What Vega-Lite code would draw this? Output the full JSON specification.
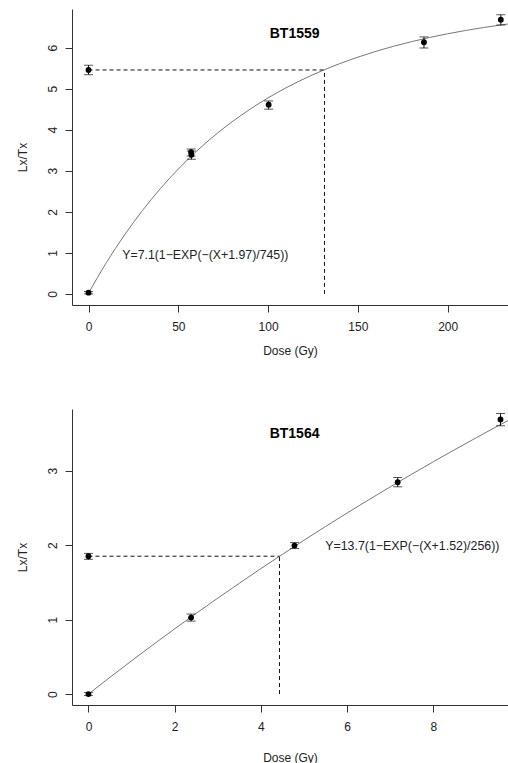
{
  "$schema": "https://vega.github.io/schema/vega-lite/v6.json",
  "padding": {"left": 15, "top": 9, "right": 0, "bottom": 0},
  "spacing": 53,
  "config": {
    "font": "Liberation Sans",
    "view": {"stroke": null},
    "axis": {"grid": false, "domainColor": "#333", "tickColor": "#333", "tickSize": 7, "labelFontSize": 12, "titleFontSize": 12, "titleFontWeight": "normal", "labelColor": "#222", "titleColor": "#222", "labelFont": "Liberation Sans", "titleFont": "Liberation Sans"},
    "axisX": {"labelPadding": 9, "titlePadding": 13},
    "axisY": {"labelAngle": -90, "labelAlign": "center", "labelBaseline": "bottom", "labelPadding": 6, "titlePadding": 17}
  },
  "datasets": {
    "pts1": [
      {"x": 0, "y": 0.03, "lo": 0.0, "hi": 0.06},
      {"x": 0, "y": 5.455, "lo": 5.34, "hi": 5.57},
      {"x": 57.1, "y": 3.455, "lo": 3.36, "hi": 3.53},
      {"x": 57.3, "y": 3.39, "lo": 3.28, "hi": 3.48},
      {"x": 100.3, "y": 4.61, "lo": 4.5, "hi": 4.7},
      {"x": 186.8, "y": 6.13, "lo": 5.99, "hi": 6.26},
      {"x": 229.6, "y": 6.68, "lo": 6.55, "hi": 6.8}
    ],
    "curve1": [
      {"x": 0, "y": 0.019}, {"x": 10, "y": 0.765}, {"x": 20, "y": 1.433}, {"x": 30, "y": 2.03},
      {"x": 40, "y": 2.565}, {"x": 50, "y": 3.042}, {"x": 60, "y": 3.47}, {"x": 70, "y": 3.852},
      {"x": 80, "y": 4.195}, {"x": 90, "y": 4.501}, {"x": 100, "y": 4.775}, {"x": 110, "y": 5.02},
      {"x": 120, "y": 5.239}, {"x": 130, "y": 5.435}, {"x": 140, "y": 5.611}, {"x": 150, "y": 5.767},
      {"x": 160, "y": 5.908}, {"x": 170, "y": 6.034}, {"x": 180, "y": 6.146}, {"x": 190, "y": 6.247},
      {"x": 200, "y": 6.337}, {"x": 210, "y": 6.417}, {"x": 220, "y": 6.489}, {"x": 230, "y": 6.553},
      {"x": 240, "y": 6.611}
    ],
    "seg1": [
      {"x": 0, "y": 5.455, "x2": 131.4, "y2": 5.455},
      {"x": 131.4, "y": 0, "x2": 131.4, "y2": 5.455}
    ],
    "txt1": [
      {"x": 114.8, "y": 6.34, "label": "BT1559", "kind": "title"},
      {"x": 18.8, "y": 0.944, "label": "Y=7.1(1−EXP(−(X+1.97)/745))", "kind": "eq"}
    ],
    "pts2": [
      {"x": 0, "y": 0.0, "lo": -0.02, "hi": 0.02},
      {"x": 0, "y": 1.852, "lo": 1.81, "hi": 1.89},
      {"x": 2.38, "y": 1.028, "lo": 0.98, "hi": 1.075},
      {"x": 4.778, "y": 1.995, "lo": 1.955, "hi": 2.035},
      {"x": 7.171, "y": 2.846, "lo": 2.785, "hi": 2.91},
      {"x": 9.556, "y": 3.69, "lo": 3.605, "hi": 3.77}
    ],
    "curve2": [
      {"x": 0, "y": 0}, {"x": 0.5, "y": 0.226}, {"x": 1, "y": 0.447}, {"x": 1.5, "y": 0.664},
      {"x": 2, "y": 0.877}, {"x": 2.5, "y": 1.085}, {"x": 3, "y": 1.289}, {"x": 3.5, "y": 1.489},
      {"x": 4, "y": 1.686}, {"x": 4.5, "y": 1.878}, {"x": 5, "y": 2.067}, {"x": 5.5, "y": 2.252},
      {"x": 6, "y": 2.433}, {"x": 6.5, "y": 2.61}, {"x": 7, "y": 2.784}, {"x": 7.5, "y": 2.955},
      {"x": 8, "y": 3.122}, {"x": 8.5, "y": 3.285}, {"x": 9, "y": 3.446}, {"x": 9.5, "y": 3.604},
      {"x": 10, "y": 3.758}
    ],
    "seg2": [
      {"x": 0, "y": 1.852, "x2": 4.43, "y2": 1.852},
      {"x": 4.43, "y": 0, "x2": 4.43, "y2": 1.852}
    ],
    "txt2": [
      {"x": 4.78, "y": 3.5, "label": "BT1564", "kind": "title"},
      {"x": 5.49, "y": 1.995, "label": "Y=13.7(1−EXP(−(X+1.52)/256))", "kind": "eq"}
    ]
  },
  "vconcat": [
    {
      "width": 436,
      "height": 296,
      "encoding": {
        "x": {"field": "x", "type": "quantitative", "title": "Dose (Gy)", "scale": {"domain": [-9.2, 233.6], "nice": false, "zero": false}, "axis": {"values": [0, 50, 100, 150, 200]}},
        "y": {"field": "y", "type": "quantitative", "title": "Lx/Tx", "scale": {"domain": [-0.27, 6.94], "nice": false, "zero": false}, "axis": {"values": [0, 1, 2, 3, 4, 5, 6]}}
      },
      "layer": [
        {"mark": {"type": "rule", "color": "#333"}, "encoding": {"y": {"datum": 6.94}}},
        {"data": {"name": "curve1"}, "mark": {"type": "line", "color": "#777", "strokeWidth": 1, "interpolate": "monotone", "clip": true}},
        {"data": {"name": "seg1"}, "mark": {"type": "rule", "color": "#111", "strokeDash": [4, 3], "strokeWidth": 1}, "encoding": {"x2": {"field": "x2"}, "y2": {"field": "y2"}}},
        {"data": {"name": "pts1"}, "mark": {"type": "errorbar", "color": "#111", "ticks": {"size": 9, "thickness": 1}, "thickness": 1}, "encoding": {"y": {"field": "lo", "type": "quantitative", "title": "Lx/Tx"}, "y2": {"field": "hi"}}},
        {"data": {"name": "pts1"}, "mark": {"type": "circle", "color": "#000", "opacity": 1, "size": 34}},
        {"data": {"name": "txt1"}, "transform": [{"filter": "datum.kind == 'title'"}], "mark": {"type": "text", "fontSize": 14, "fontWeight": "bold", "align": "center", "baseline": "middle", "color": "#000"}, "encoding": {"text": {"field": "label"}}},
        {"data": {"name": "txt1"}, "transform": [{"filter": "datum.kind == 'eq'"}], "mark": {"type": "text", "fontSize": 12.3, "align": "left", "baseline": "middle", "color": "#222"}, "encoding": {"text": {"field": "label"}}}
      ]
    },
    {
      "width": 436,
      "height": 296,
      "encoding": {
        "x": {"field": "x", "type": "quantitative", "title": "Dose (Gy)", "scale": {"domain": [-0.382, 9.73], "nice": false, "zero": false}, "axis": {"values": [0, 2, 4, 6, 8], "titlePadding": 20}},
        "y": {"field": "y", "type": "quantitative", "title": "Lx/Tx", "scale": {"domain": [-0.147, 3.83], "nice": false, "zero": false}, "axis": {"values": [0, 1, 2, 3]}}
      },
      "layer": [
        {"mark": {"type": "rule", "color": "#333"}, "encoding": {"y": {"datum": 3.83}}},
        {"data": {"name": "curve2"}, "mark": {"type": "line", "color": "#777", "strokeWidth": 1, "interpolate": "monotone", "clip": true}},
        {"data": {"name": "seg2"}, "mark": {"type": "rule", "color": "#111", "strokeDash": [4, 3], "strokeWidth": 1}, "encoding": {"x2": {"field": "x2"}, "y2": {"field": "y2"}}},
        {"data": {"name": "pts2"}, "mark": {"type": "errorbar", "color": "#111", "ticks": {"size": 9, "thickness": 1}, "thickness": 1}, "encoding": {"y": {"field": "lo", "type": "quantitative", "title": "Lx/Tx"}, "y2": {"field": "hi"}}},
        {"data": {"name": "pts2"}, "mark": {"type": "circle", "color": "#000", "opacity": 1, "size": 34}},
        {"data": {"name": "txt2"}, "transform": [{"filter": "datum.kind == 'title'"}], "mark": {"type": "text", "fontSize": 14, "fontWeight": "bold", "align": "center", "baseline": "middle", "color": "#000"}, "encoding": {"text": {"field": "label"}}},
        {"data": {"name": "txt2"}, "transform": [{"filter": "datum.kind == 'eq'"}], "mark": {"type": "text", "fontSize": 12.4, "align": "left", "baseline": "middle", "color": "#222"}, "encoding": {"text": {"field": "label"}}}
      ]
    }
  ]
}
